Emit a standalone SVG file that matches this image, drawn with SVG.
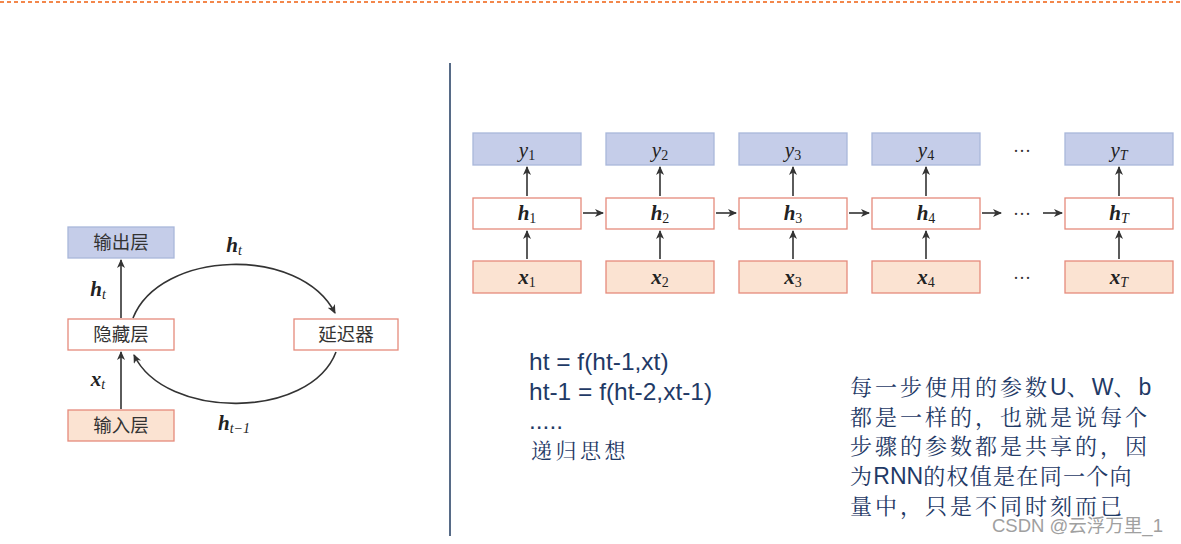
<svg xmlns="http://www.w3.org/2000/svg" width="1181" height="544" viewBox="0 0 1181 544">
<style>
.out{fill:#c5cde9;stroke:#a9b7da;stroke-width:1.3}
.hid{fill:#ffffff;stroke:#e58a7c;stroke-width:1.3}
.inp{fill:#fbe3d2;stroke:#e58a7c;stroke-width:1.3}
.cn{font-family:"Noto Sans CJK SC",sans-serif;font-size:18.5px;fill:#333;text-anchor:middle}
.m{font-family:"Liberation Serif",serif;font-size:21px;fill:#222;text-anchor:middle;font-style:italic}
.b{font-weight:bold}
.s{font-size:14px;font-style:normal;font-weight:normal}
.si{font-size:14px;font-style:italic;font-weight:normal}
.ar{stroke:#333;stroke-width:1.6;fill:none;marker-end:url(#ah)}
.eq{font-family:"Liberation Sans",Arial,sans-serif;font-size:24.5px;fill:#1f3a66}
.zh{font-family:"Noto Serif CJK SC","Noto Sans CJK SC",serif;font-size:22px;fill:#1f3a66;letter-spacing:3px}
.tight{letter-spacing:1.3px}
.zh2{font-family:"Noto Serif CJK SC","Noto Sans CJK SC",serif;font-size:21px;fill:#1f3a66;letter-spacing:3.5px}
.lat{font-family:"Liberation Sans",Arial,sans-serif;font-size:23px;letter-spacing:0}
.dots{font-family:"Liberation Serif",serif;font-size:18px;fill:#333;text-anchor:middle}
</style>
<defs>
<marker id="ah" markerWidth="10" markerHeight="8" refX="8" refY="4" orient="auto" markerUnits="userSpaceOnUse">
<path d="M0,0 L9,4 L0,8 L2.5,4 Z" fill="#333"/>
</marker>
</defs>

<line x1="0" y1="2" x2="1181" y2="2" stroke="#f06010" stroke-width="1.5" stroke-dasharray="4,3"/>
<line x1="450" y1="63" x2="450" y2="536" stroke="#1f3a5f" stroke-width="1.5"/>

<!-- left diagram -->
<g id="output-layer"><rect class="out" x="68" y="227" width="106" height="31"/><text class="cn" x="121" y="249">输出层</text></g>
<g id="hidden-layer"><rect class="hid" x="68" y="319" width="106" height="31"/><text class="cn" x="121" y="341">隐藏层</text></g>
<g id="delay"><rect class="hid" x="294" y="319" width="104" height="31"/><text class="cn" x="346" y="341">延迟器</text></g>
<g id="input-layer"><rect class="inp" x="68" y="410" width="106" height="31"/><text class="cn" x="121" y="432">输入层</text></g>

<g id="left-connectors">
<line class="ar" x1="121" y1="318" x2="121" y2="260"/>
<line class="ar" x1="121" y1="409" x2="121" y2="352"/>
<path class="ar" d="M133,318 C160,250 300,245 335,313"/>
<path class="ar" d="M336,352 C310,420 165,420 134,355"/>
<text class="m b" x="98" y="296">h<tspan class="si" dy="3">t</tspan></text>
<text class="m b" x="98" y="386">x<tspan class="si" dy="3">t</tspan></text>
<text class="m b" x="234" y="252">h<tspan class="si" dy="3">t</tspan></text>
<text class="m b" x="234" y="430">h<tspan class="si" dy="3">t−1</tspan></text>
</g>

<!-- right diagram -->
<g id="y1"><rect class="out" x="473" y="133" width="108" height="32"/><text class="m" x="527" y="157">y<tspan class="s" dy="3">1</tspan></text></g>
<g id="y2"><rect class="out" x="606" y="133" width="108" height="32"/><text class="m" x="660" y="157">y<tspan class="s" dy="3">2</tspan></text></g>
<g id="y3"><rect class="out" x="739" y="133" width="108" height="32"/><text class="m" x="793" y="157">y<tspan class="s" dy="3">3</tspan></text></g>
<g id="y4"><rect class="out" x="872" y="133" width="108" height="32"/><text class="m" x="926" y="157">y<tspan class="s" dy="3">4</tspan></text></g>
<g id="yT"><rect class="out" x="1065" y="133" width="108" height="32"/><text class="m" x="1119" y="157">y<tspan class="si" dy="3">T</tspan></text></g>

<g id="h1"><rect class="hid" x="473" y="198" width="108" height="31"/><text class="m b" x="527" y="220">h<tspan class="s" dy="3">1</tspan></text></g>
<g id="h2"><rect class="hid" x="606" y="198" width="108" height="31"/><text class="m b" x="660" y="220">h<tspan class="s" dy="3">2</tspan></text></g>
<g id="h3"><rect class="hid" x="739" y="198" width="108" height="31"/><text class="m b" x="793" y="220">h<tspan class="s" dy="3">3</tspan></text></g>
<g id="h4"><rect class="hid" x="872" y="198" width="108" height="31"/><text class="m b" x="926" y="220">h<tspan class="s" dy="3">4</tspan></text></g>
<g id="hT"><rect class="hid" x="1065" y="198" width="108" height="31"/><text class="m b" x="1119" y="220">h<tspan class="si" dy="3">T</tspan></text></g>

<g id="x1"><rect class="inp" x="473" y="261" width="108" height="32"/><text class="m b" x="527" y="284">x<tspan class="s" dy="3">1</tspan></text></g>
<g id="x2"><rect class="inp" x="606" y="261" width="108" height="32"/><text class="m b" x="660" y="284">x<tspan class="s" dy="3">2</tspan></text></g>
<g id="x3"><rect class="inp" x="739" y="261" width="108" height="32"/><text class="m b" x="793" y="284">x<tspan class="s" dy="3">3</tspan></text></g>
<g id="x4"><rect class="inp" x="872" y="261" width="108" height="32"/><text class="m b" x="926" y="284">x<tspan class="s" dy="3">4</tspan></text></g>
<g id="xT"><rect class="inp" x="1065" y="261" width="108" height="32"/><text class="m b" x="1119" y="284">x<tspan class="si" dy="3">T</tspan></text></g>

<g id="dots">
<text class="dots" x="1022" y="157">···</text>
<text class="dots" x="1022" y="220">···</text>
<text class="dots" x="1022" y="284">···</text>
</g>

<g id="right-connectors">
<line class="ar" x1="527" y1="196" x2="527" y2="167"/>
<line class="ar" x1="660" y1="196" x2="660" y2="167"/>
<line class="ar" x1="793" y1="196" x2="793" y2="167"/>
<line class="ar" x1="926" y1="196" x2="926" y2="167"/>
<line class="ar" x1="1119" y1="196" x2="1119" y2="167"/>
<line class="ar" x1="527" y1="259" x2="527" y2="231"/>
<line class="ar" x1="660" y1="259" x2="660" y2="231"/>
<line class="ar" x1="793" y1="259" x2="793" y2="231"/>
<line class="ar" x1="926" y1="259" x2="926" y2="231"/>
<line class="ar" x1="1119" y1="259" x2="1119" y2="231"/>
<line class="ar" x1="583" y1="213" x2="603" y2="213"/>
<line class="ar" x1="716" y1="213" x2="736" y2="213"/>
<line class="ar" x1="849" y1="213" x2="869" y2="213"/>
<line class="ar" x1="982" y1="213" x2="1001" y2="213"/>
<line class="ar" x1="1043" y1="213" x2="1062" y2="213"/>
</g>

<!-- equations -->
<text class="eq" x="529" y="370">ht = f(ht-1,xt)</text>
<text class="eq" x="529" y="400">ht-1 = f(ht-2,xt-1)</text>
<text class="eq" x="529" y="429">.....</text>
<text class="zh2" x="531" y="458">递归思想</text>

<g id="note">
<text class="zh" x="850" y="395">每一步使用的参数<tspan class="lat">U</tspan>、<tspan class="lat">W</tspan>、<tspan class="lat">b</tspan></text>
<text class="zh" x="850" y="425">都是一样的，也就是说每个</text>
<text class="zh" x="850" y="454">步骤的参数都是共享的，因</text>
<text class="zh tight" x="850" y="484">为<tspan class="lat">RNN</tspan>的权值是在同一个向</text>
<text class="zh" x="850" y="514">量中，只是不同时刻而已</text>
</g>
<text x="992" y="532" font-family="Liberation Sans,'Noto Sans CJK SC',sans-serif" font-size="18.5" fill="#a0a0a0">CSDN @云浮万里_1</text>
</svg>
